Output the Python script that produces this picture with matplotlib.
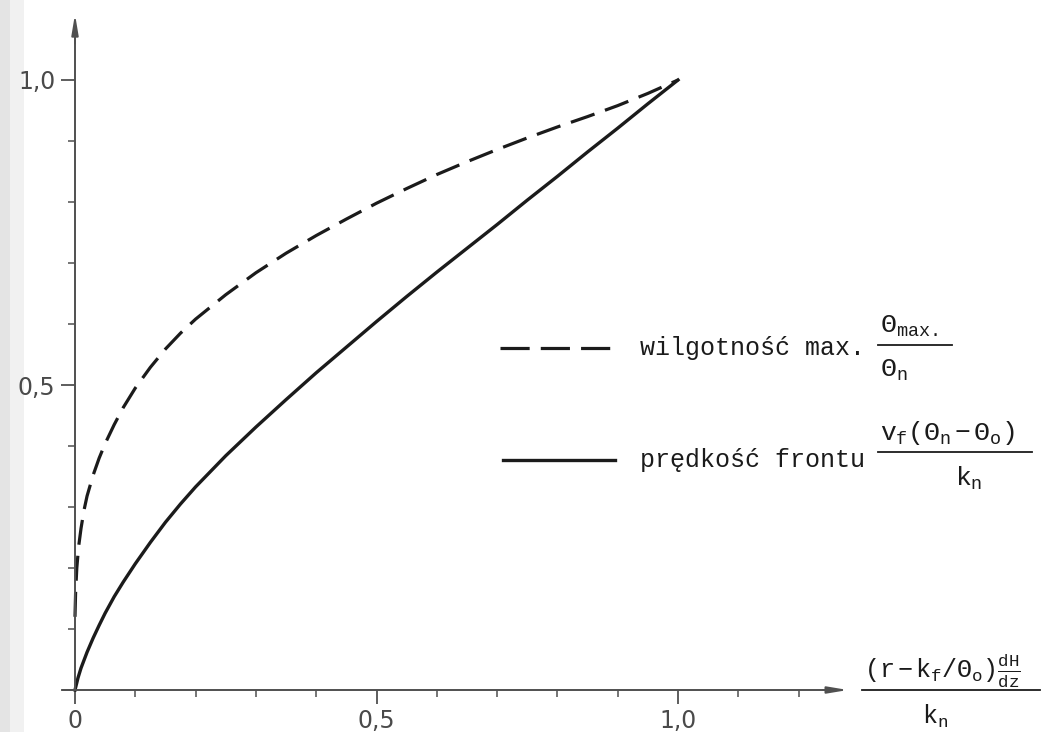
import matplotlib
matplotlib.use("Agg")
import matplotlib.pyplot as plt
from matplotlib.lines import Line2D
from matplotlib.patches import Rectangle

plt.rcParams["mathtext.fontset"] = "custom"
plt.rcParams["mathtext.rm"] = "Liberation Mono"
plt.rcParams["mathtext.it"] = "Liberation Mono"
plt.rcParams["mathtext.bf"] = "Liberation Mono:bold"
plt.rcParams["lines.scale_dashes"] = False

# Maximum moisture  theta_max / theta_n  (dashed curve)
moist_x = [0.000, 0.001, 0.003, 0.006, 0.010, 0.015, 0.020, 0.030, 0.040, 0.050,
           0.065, 0.080, 0.100, 0.125, 0.150, 0.175, 0.200, 0.250, 0.300, 0.350,
           0.400, 0.450, 0.500, 0.550, 0.600, 0.650, 0.700, 0.750, 0.800, 0.850,
           0.900, 0.950, 1.000]
moist_y = [0.120, 0.160, 0.200, 0.235, 0.265, 0.295, 0.318, 0.352, 0.380, 0.404,
           0.435, 0.463, 0.495, 0.529, 0.559, 0.585, 0.608, 0.648, 0.684, 0.716,
           0.745, 0.772, 0.798, 0.822, 0.845, 0.866, 0.886, 0.905, 0.923, 0.940,
           0.958, 0.978, 1.000]

# Front velocity  v_f (theta_n - theta_o) / k_n  (solid curve)
front_x = [0.000, 0.005, 0.010, 0.020, 0.030, 0.040, 0.050, 0.065, 0.080, 0.100,
           0.125, 0.150, 0.175, 0.200, 0.250, 0.300, 0.350, 0.400, 0.450, 0.500,
           0.550, 0.600, 0.650, 0.700, 0.750, 0.800, 0.850, 0.900, 0.950, 1.000]
front_y = [0.000, 0.020, 0.036, 0.062, 0.085, 0.106, 0.126, 0.153, 0.177, 0.207,
           0.242, 0.275, 0.305, 0.333, 0.384, 0.431, 0.476, 0.520, 0.562, 0.604,
           0.645, 0.685, 0.724, 0.763, 0.803, 0.842, 0.882, 0.921, 0.961, 1.000]

x_major = [0.0, 0.5, 1.0]
x_major_labels = ["0", "0,5", "1,0"]
y_major = [0.0, 0.5, 1.0]
y_major_labels = ["", "0,5", "1,0"]
x_minor = [0.1, 0.2, 0.3, 0.4, 0.6, 0.7, 0.8, 0.9, 1.1, 1.2]
y_minor = [0.1, 0.2, 0.3, 0.4, 0.6, 0.7, 0.8, 0.9]

W, H = 1043, 732
INK = "#1b1b1b"
AXC = "#505050"
MONO = "Liberation Mono"

fig = plt.figure(figsize=(W / 100, H / 100), dpi=100)
fig.patch.set_facecolor("white")

# faint grey band along the left edge of the sheet
fig.add_artist(Rectangle((0, 0), 10 / W, 1, transform=fig.transFigure,
                         facecolor="#e4e4e4", edgecolor="none", zorder=0))
fig.add_artist(Rectangle((10 / W, 0), 14 / W, 1, transform=fig.transFigure,
                         facecolor="#f1f1f1", edgecolor="none", zorder=0))

ax = fig.add_axes([0, 0, 1, 1])
ax.set_facecolor("none")
ax.set_xlim(-75 / 603, (W - 75) / 603)
ax.set_ylim((690 - H) / 610, 690 / 610)

for side in ("top", "right"):
    ax.spines[side].set_visible(False)
ax.spines["left"].set_position(("data", 0))
ax.spines["bottom"].set_position(("data", 0))
ax.spines["left"].set_bounds(0, 1.07)
ax.spines["bottom"].set_bounds(-0.02, 1.25)
for side in ("left", "bottom"):
    ax.spines[side].set_color(AXC)
    ax.spines[side].set_linewidth(1.4)

arrow = dict(arrowstyle="-|>,head_length=1.2,head_width=0.2", color=AXC,
             lw=1.4, shrinkA=0, shrinkB=0)
ax.annotate("", xy=(0, 1.108), xytext=(0, 1.06), arrowprops=arrow)
ax.annotate("", xy=(1.282, 0), xytext=(1.24, 0), arrowprops=arrow)

ax.set_xticks(x_major, x_major_labels)
ax.set_yticks(y_major, y_major_labels)
ax.set_xticks(x_minor, minor=True)
ax.set_yticks(y_minor, minor=True)
ax.tick_params(which="major", direction="out", length=10, width=1.3, color=AXC,
               labelsize=17, labelcolor="#4a4a4a", pad=4)
ax.tick_params(which="minor", direction="out", length=5, width=1.1, color=AXC)
for lab in ax.get_xticklabels() + ax.get_yticklabels():
    lab.set_family("DejaVu Sans")

ax.plot(moist_x, moist_y, color=INK, lw=2.3, linestyle=(0, (18, 8)),
        dash_capstyle="butt", dash_joinstyle="round")
ax.plot(front_x, front_y, color=INK, lw=2.4, solid_joinstyle="round")


def fx(px):
    return px / W


def fy(py):
    return 1 - py / H


def fraction(num, den, x0, x1, y_bar, den_x, gap_num=12, gap_den=13, size=19):
    fig.add_artist(Line2D([fx(x0), fx(x1)], [fy(y_bar), fy(y_bar)],
                          transform=fig.transFigure, color=INK, lw=1.3))
    fig.text(fx(x0 + 2), fy(y_bar - gap_num), num, ha="left", va="baseline",
             size=size, color=INK, family=MONO)
    fig.text(fx(den_x), fy(y_bar + gap_den), den, ha="left", va="top",
             size=size, color=INK, family=MONO)


# legend: dashed sample + description
fig.add_artist(Line2D([fx(500), fx(617)], [fy(348), fy(348)],
                      transform=fig.transFigure, color=INK, lw=2.3,
                      linestyle=(0, (21, 8)), dash_capstyle="butt"))
fig.text(fx(640), fy(348), "wilgotność max.", ha="left", va="center",
         size=18, color=INK, family=MONO)
fraction(r"$\Theta_{max.}$", r"$\Theta_{n}$", 878, 952, 345, 880)

# legend: solid sample + description
fig.add_artist(Line2D([fx(503), fx(615)], [fy(460), fy(460)],
                      transform=fig.transFigure, color=INK, lw=2.4))
fig.text(fx(640), fy(460), "prędkość frontu", ha="left", va="center",
         size=18, color=INK, family=MONO)
fraction(r"$v_{f}(\Theta_{n}-\Theta_{o})$", r"$k_{n}$", 878, 1032, 452, 955)

# x-axis quantity
fraction(r"$(r-k_{f}/\Theta_{o})\frac{dH}{dz}$", r"$k_{n}$", 862, 1040, 690, 922,
         size=18)

fig.savefig("out.png", dpi=100, facecolor="white")
